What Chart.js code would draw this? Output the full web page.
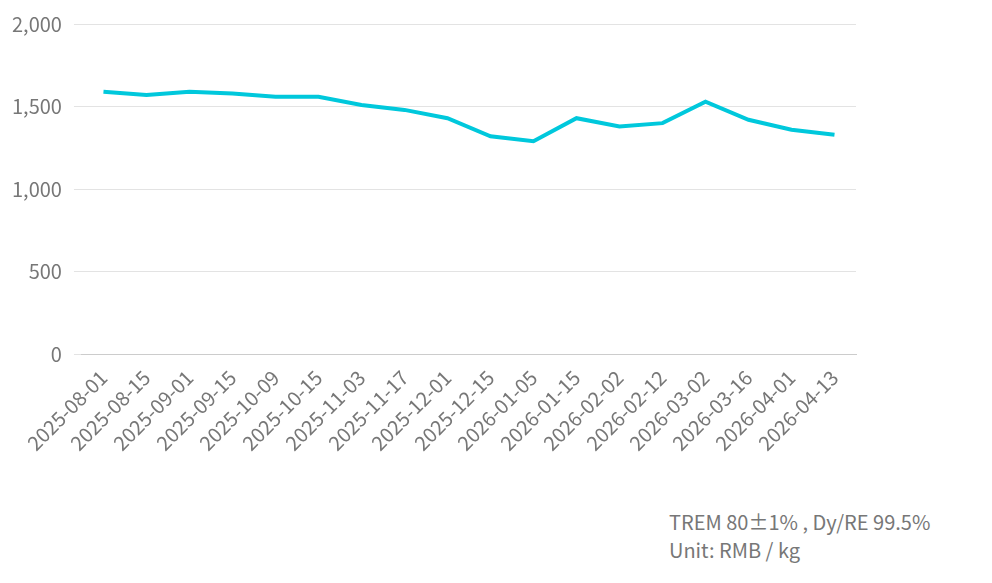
<!DOCTYPE html>
<html><head><meta charset="utf-8">
<script src="https://cdn.jsdelivr.net/npm/chart.js@4"></script>
<style>
body{margin:0;background:#fff;font-family:"Noto Sans CJK SC","Noto Sans",sans-serif;}
#wrap{position:absolute;left:0;top:0;width:992px;height:458px;}
#note{position:absolute;left:669px;top:508px;color:#777;font-size:20px;line-height:28px;}
</style></head><body>
<div id="wrap"><canvas id="c"></canvas></div>
<div id="note">TREM 80±1% , Dy/RE 99.5%<br>Unit: RMB / kg</div>
<script>
const categories=["2025-08-01","2025-08-15","2025-09-01","2025-09-15","2025-10-09","2025-10-15","2025-11-03","2025-11-17","2025-12-01","2025-12-15","2026-01-05","2026-01-15","2026-02-02","2026-02-12","2026-03-02","2026-03-16","2026-04-01","2026-04-13"];
const prices=[1590,1570,1590,1580,1560,1560,1510,1480,1430,1320,1290,1430,1380,1400,1530,1420,1360,1330];
const yTicks=[0,500,1000,1500,2000];
new Chart(document.getElementById('c'),{type:'line',
data:{labels:categories,datasets:[{data:prices,borderColor:'#00c8dc',borderWidth:4,pointRadius:0,tension:0,fill:false}]},
options:{responsive:true,maintainAspectRatio:false,animation:false,
layout:{padding:{left:0,right:136,top:2,bottom:0}},
plugins:{legend:{display:false},tooltip:{enabled:false}},
scales:{
x:{offset:true,grid:{display:false},border:{color:'#ccc'},ticks:{color:'#777',font:{size:20,family:'"Noto Sans CJK SC"'},maxRotation:45,minRotation:45,autoSkip:false}},
y:{min:0,max:2000,afterBuildTicks:a=>{a.ticks=yTicks.map(v=>({value:v}));},grid:{color:'#e3e3e3'},border:{display:false},
ticks:{color:'#777',font:{size:20,family:'"Noto Sans CJK SC"'},padding:12,callback:v=>v.toLocaleString('en-US')}}
}}});
</script></body></html>
